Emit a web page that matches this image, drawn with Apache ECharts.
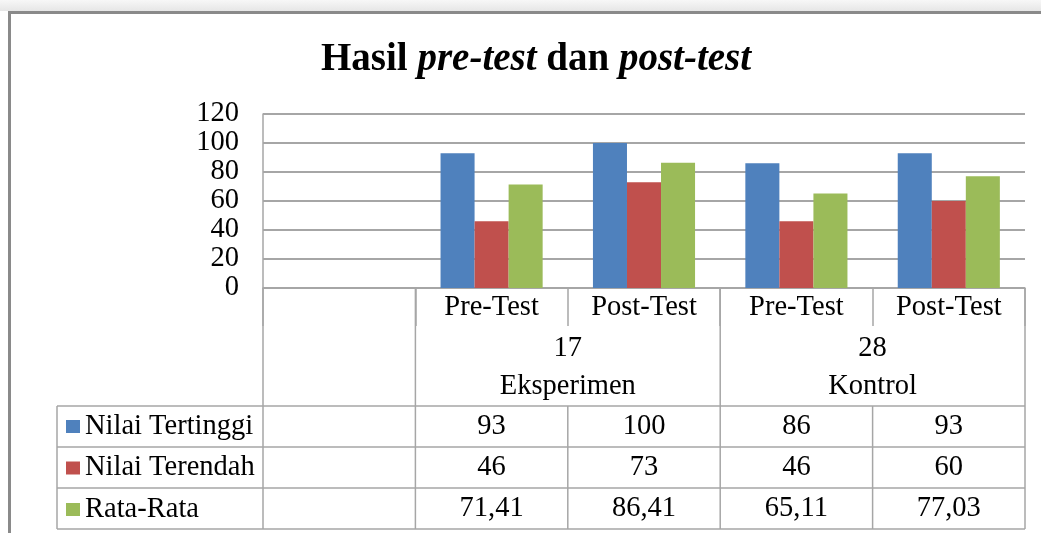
<!DOCTYPE html>
<html>
<head>
<meta charset="utf-8">
<script src="https://cdn.jsdelivr.net/npm/echarts@6/dist/echarts.min.js"></script>
<style>
  html, body { margin: 0; padding: 0; background: #fff; }
  #main { width: 1041px; height: 533px; }
</style>
</head>
<body>
<div id="main"></div>
<script>
// data
const kategori = ["", "Pre-Test", "Post-Test", "Pre-Test", "Post-Test"];
const kelompok = ["Eksperimen", "Kontrol"];
const jumlah = ["17", "28"];
const namaSeri = ["Nilai Tertinggi", "Nilai Terendah", "Rata-Rata"];
const tertinggi = [null, 93, 100, 86, 93];
const terendah = [null, 46, 73, 46, 60];
const rataRata = [null, 71.41, 86.41, 65.11, 77.03];
const yTicks = [0, 20, 40, 60, 80, 100, 120];
const warna = ["#4f81bd", "#c0504d", "#9bbb59"];

const FONT = "'Times New Roman', 'Liberation Serif', serif";
const FS = 28.5;
const GRID = "#a6a6a6";
const fmt = v => (v == null ? "" : String(v).replace(".", ","));

let chart = echarts.init(document.getElementById("main"));

function barSeri(nama, data, i) {
  return {
    type: "bar",
    name: nama,
    data: data,
    barGap: "0%",
    barCategoryGap: "33%",
    itemStyle: { color: warna[i] },
  };
}

chart.setOption({
  animation: false,
  title: {
    left: 316,
    top: 35,
    text: "{b|Hasil }{bi|pre-test}{b| dan }{bi|post-test}",
    textStyle: {
      rich: {
        b: { fontFamily: FONT, fontSize: 39, fontWeight: "bold", color: "#000" },
        bi: { fontFamily: FONT, fontSize: 39, fontWeight: "bold", fontStyle: "italic", color: "#000" },
      },
    },
  },
  legend: {
    orient: "vertical",
    left: 66,
    top: 412,
    padding: 0,
    icon: "rect",
    itemWidth: 14,
    itemHeight: 13,
    itemGap: 41 - FS,
    selectedMode: false,
    data: namaSeri,
    textStyle: { fontFamily: FONT, fontSize: FS, lineHeight: FS, color: "#000" },
  },
  grid: { left: 263, right: 16, top: 114, bottom: 245 },
  xAxis: {
    type: "category",
    data: kategori,
    axisLine: { lineStyle: { color: GRID, width: 1.5 } },
    axisTick: { show: true, interval: 0, length: 38, lineStyle: { color: GRID, width: 1.5 } },
    axisLabel: { interval: 0, margin: 5, fontFamily: FONT, fontSize: FS, lineHeight: FS, color: "#000" },
  },
  yAxis: {
    type: "value",
    min: 0,
    max: 120,
    interval: 20,
    axisLine: { show: true, lineStyle: { color: GRID, width: 1.5 } },
    axisTick: { show: false },
    axisLabel: {
      margin: 24,
      fontFamily: FONT,
      fontSize: FS,
      color: "#000",
      formatter: v => (yTicks.indexOf(v) >= 0 ? String(v) : ""),
    },
    splitLine: { lineStyle: { color: GRID, width: 2 } },
  },
  series: [
    barSeri(namaSeri[0], tertinggi, 0),
    barSeri(namaSeri[1], terendah, 1),
    barSeri(namaSeri[2], rataRata, 2),
  ],
});

// tabel data di bawah sumbu, posisi kolom dari skala kategori
function gambarTabel() {
  const cx = i => chart.convertToPixel({ xAxisIndex: 0 }, i);
  const band = cx(1) - cx(0);
  const tepi = i => cx(i) - band / 2; // tepi kiri kolom i
  const n = kategori.length;
  const kanan = tepi(n);
  const yAxis0 = chart.convertToPixel({ yAxisIndex: 0 }, 0);
  const tblTop = 406, rowH = 41, tblLeft = 57;
  const tblBottom = tblTop + rowH * 3;
  const el = [];
  const garis = (x1, y1, x2, y2) => el.push({
    type: "line", silent: true,
    shape: { x1, y1, x2, y2 },
    style: { stroke: GRID, lineWidth: 1.5 },
  });
  const teks = (x, y, s) => el.push({
    type: "text", silent: true, x, y,
    style: { text: s, fontFamily: FONT, fontSize: FS, fill: "#000", align: "center", verticalAlign: "middle" },
  });

  // bingkai luar
  el.push({ type: "rect", silent: true, shape: { x: 0, y: 0, width: 1041, height: 11 },
    style: { fill: new echarts.graphic.LinearGradient(0, 0, 0, 1, [
      { offset: 0, color: "#f7f7f7" }, { offset: 1, color: "#e6e6e6" }]) } });
  el.push({ type: "rect", silent: true, shape: { x: 9.5, y: 12.5, width: 1060, height: 560 },
    style: { fill: null, stroke: "#8a8a8a", lineWidth: 3 } });

  // garis tabel
  for (let r = 0; r <= 3; r++) garis(tblLeft, tblTop + r * rowH, kanan, tblTop + r * rowH);
  garis(tblLeft, tblTop, tblLeft, tblBottom);
  garis(tepi(0), yAxis0, tepi(0), tblBottom);
  for (let i = 1; i <= n; i++) {
    const batasKelompok = (i - 1) % 2 === 0;
    garis(tepi(i), batasKelompok ? yAxis0 : tblTop, tepi(i), tblBottom);
  }

  // label kelompok
  for (let g = 0; g < kelompok.length; g++) {
    const mid = tepi(2 + g * 2);
    teks(mid, 349, jumlah[g]);
    teks(mid, 387, kelompok[g]);
  }

  // nilai
  const baris = [tertinggi, terendah, rataRata];
  baris.forEach((arr, r) => {
    const y = tblTop + rowH * r + rowH / 2;
    for (let i = 0; i < n; i++) {
      if (arr[i] != null) teks(cx(i), y, fmt(arr[i]));
    }
  });

  chart.setOption({ graphic: { elements: el } });
}

gambarTabel();
window.onresize = chart.resize;
</script>
</body>
</html>
